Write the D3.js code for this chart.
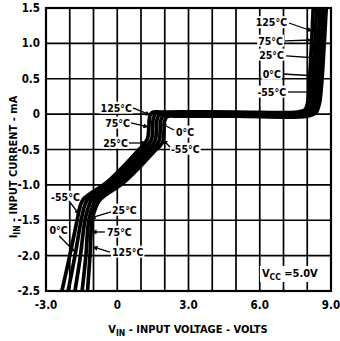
<!DOCTYPE html>
<html><head><meta charset="utf-8">
<script src="https://cdn.jsdelivr.net/npm/d3@7"></script>
<style>
body{margin:0;background:#fff}
svg{display:block}
text{font-family:"Liberation Sans Narrow","DejaVu Sans Condensed",sans-serif;font-weight:bold;fill:#000}
</style>
</head><body>
<svg id="chart" width="340" height="341"></svg>
<script>
// ---- data ----
const xTicks = [-3, 0, 3, 6, 9];
const xTickLabels = ["-3.0", "0", "3.0", "6.0", "9.0"];
const yTicks = [1.5, 1.0, 0.5, 0, -0.5, -1.0, -1.5, -2.0, -2.5];
const yTickLabels = ["1.5", "1.0", "0.5", "0", "-0.5", "-1.0", "-1.5", "-2.0", "-2.5"];
const xGrid = [-2, -1, 0, 1, 2, 3, 4, 5, 6, 7, 8];
const yGrid = [1.0, 0.5, 0, -0.5, -1.0, -1.5, -2.0];
const temps = ["-55°C", "0°C", "25°C", "75°C", "125°C"];

const vinM55 = [-2.33, -2.0, -1.69, -1.56, -1.42, -0.46, 0.22, 0.89, 1.12, 1.28, 1.33, 1.36, 1.45, 1.9, 5.0, 7.6, 7.9, 8.01, 8.08, 8.15, 8.21, 8.25];
const iinM55 = [-2.5, -2.0, -1.5, -1.3, -1.2, -0.97, -0.75, -0.51, -0.43, -0.34, -0.2, -0.05, 0.02, 0.03, 0.03, 0.03, 0.06, 0.15, 0.4, 0.8, 1.2, 1.5];
const vin0 = [-2.07, -1.78, -1.52, -1.38, -1.24, -0.28, 0.40, 1.07, 1.3, 1.45, 1.49, 1.52, 1.62, 2.1, 5.0, 7.7, 8.02, 8.14, 8.21, 8.29, 8.35, 8.39];
const iin0 = [-2.5, -2.0, -1.5, -1.3, -1.2, -0.97, -0.75, -0.51, -0.43, -0.35, -0.2, -0.06, 0.008, 0.015, 0.015, 0.015, 0.05, 0.15, 0.4, 0.8, 1.2, 1.5];
const vin25 = [-1.78, -1.55, -1.36, -1.2, -1.06, -0.10, 0.58, 1.25, 1.47, 1.61, 1.65, 1.68, 1.78, 2.3, 5.0, 7.8, 8.14, 8.27, 8.34, 8.42, 8.49, 8.53];
const iin25 = [-2.5, -2.0, -1.5, -1.3, -1.2, -0.97, -0.75, -0.51, -0.44, -0.36, -0.21, -0.07, -0.006, 0, 0, 0, 0.04, 0.15, 0.4, 0.8, 1.2, 1.5];
const vin75 = [-1.48, -1.32, -1.2, -1.03, -0.88, 0.08, 0.76, 1.43, 1.63, 1.77, 1.81, 1.84, 1.94, 2.45, 5.0, 7.9, 8.25, 8.39, 8.47, 8.55, 8.62, 8.67];
const iin75 = [-2.5, -2.0, -1.5, -1.3, -1.2, -0.97, -0.75, -0.51, -0.45, -0.37, -0.22, -0.08, -0.02, -0.015, -0.015, -0.015, 0.03, 0.15, 0.4, 0.8, 1.2, 1.5];
const vin125 = [-1.25, -1.15, -1.06, -0.88, -0.70, 0.26, 0.94, 1.61, 1.8, 1.93, 1.97, 2.0, 2.1, 2.6, 5.0, 8.0, 8.36, 8.51, 8.6, 8.68, 8.75, 8.8];
const iin125 = [-2.5, -2.0, -1.5, -1.3, -1.2, -0.97, -0.75, -0.51, -0.45, -0.38, -0.23, -0.09, -0.035, -0.03, -0.03, -0.03, 0.02, 0.15, 0.4, 0.8, 1.2, 1.5];

const seriesV = [vinM55, vin0, vin25, vin75, vin125];
const seriesI = [iinM55, iin0, iin25, iin75, iin125];

// annotation labels (data coords): text, anchor, x, y, leader from, leader to
const annotations = [
  ["125°C", "end", 7.15, 1.295, [7.23, 1.288], [8.2, 1.175]],
  ["75°C", "end", 6.98, 1.034, [7.06, 1.034], [8.16, 1.048]],
  ["25°C", "end", 7.02, 0.836, [7.11, 0.822], [8.37, 0.793]],
  ["0°C", "end", 6.89, 0.567, [6.98, 0.567], [8.41, 0.539]],
  ["-55°C", "end", 7.11, 0.313, [7.19, 0.313], [8.37, 0.313]],
  ["125°C", "end", 0.62, 0.087, [0.66, 0.087], [1.38, -0.012]],
  ["75°C", "end", 0.537, -0.125, [0.58, -0.125], [1.29, -0.18]],
  ["25°C", "end", 0.45, -0.408, [0.49, -0.408], [1.21, -0.408]],
  ["0°C", "start", 2.47, -0.253, [2.39, -0.224], [1.88, -0.14]],
  ["-55°C", "start", 2.26, -0.493, [2.22, -0.465], [1.93, -0.366]],
  ["-55°C", "middle", -2.18, -1.171, [-2.03, -1.228], [-1.61, -1.412]],
  ["25°C", "start", -0.221, -1.355, [-0.263, -1.383], [-1.105, -1.468]],
  ["0°C", "middle", -2.47, -1.638, [-2.45, -1.72], [-1.82, -1.935]],
  ["75°C", "start", -0.432, -1.666, [-0.52, -1.666], [-1.06, -1.666]],
  ["125°C", "start", -0.221, -1.949, [-0.305, -1.949], [-1.02, -1.878]]
];

// ---- layout ----
const svg = d3.select("#chart");
const x = d3.scaleLinear().domain([-3, 9]).range([46, 331]);
const y = d3.scaleLinear().domain([-2.5, 1.5]).range([291, 8]);

// grid
svg.append("g").selectAll("line").data(xGrid).join("line")
  .attr("x1", d => x(d)).attr("x2", d => x(d)).attr("y1", y(1.5)).attr("y2", y(-2.5))
  .attr("stroke", "#000").attr("stroke-width", 1.7);
svg.append("g").selectAll("line").data(yGrid).join("line")
  .attr("y1", d => y(d)).attr("y2", d => y(d)).attr("x1", x(-3)).attr("x2", x(9))
  .attr("stroke", "#000").attr("stroke-width", 1.7);

// label backgrounds layer
const bgLayer = svg.append("g");

// curves
const line = d3.line().x(d => x(d[0])).y(d => y(d[1])).curve(d3.curveCatmullRom.alpha(0.5));
svg.append("g").selectAll("path").data(temps).join("path")
  .attr("d", (t, k) => line(seriesV[k].map((v, j) => [v, seriesI[k][j]])))
  .attr("fill", "none").attr("stroke", "#000").attr("stroke-width", 3.7)
  .attr("stroke-linejoin", "round");

// frame
svg.append("rect").attr("x", x(-3)).attr("y", y(1.5))
  .attr("width", x(9) - x(-3)).attr("height", y(-2.5) - y(1.5))
  .attr("fill", "none").attr("stroke", "#000").attr("stroke-width", 2.2);

// arrow marker
svg.append("defs").append("marker").attr("id", "ah")
  .attr("viewBox", "0 0 10 10").attr("refX", 9).attr("refY", 5)
  .attr("markerWidth", 6).attr("markerHeight", 5).attr("markerUnits", "userSpaceOnUse")
  .attr("orient", "auto")
  .append("path").attr("d", "M0,0 L10,5 L0,10 Z").attr("fill", "#000");

// annotations
const ann = svg.append("g");
annotations.forEach(a => {
  ann.append("line")
    .attr("x1", x(a[4][0])).attr("y1", y(a[4][1]))
    .attr("x2", x(a[5][0])).attr("y2", y(a[5][1]))
    .attr("stroke", "#000").attr("stroke-width", 1.3).attr("marker-end", "url(#ah)");
  const t = ann.append("text").attr("x", x(a[2])).attr("y", y(a[3]))
    .attr("dy", "0.35em").attr("text-anchor", a[1]).attr("font-size", 10.5).text(a[0]);
  const b = t.node().getBBox();
  bgLayer.append("rect").attr("x", b.x - 1).attr("y", b.y).attr("width", b.width + 2).attr("height", b.height)
    .attr("fill", "#fff");
});

// Vcc label
const vcc = svg.append("text").attr("x", x(6.09)).attr("y", y(-2.302)).attr("font-size", 11);
vcc.append("tspan").text("V");
vcc.append("tspan").attr("dy", 3).attr("font-size", 8.5).text("CC");
vcc.append("tspan").attr("dy", -3).text(" =5.0V");
const vb = vcc.node().getBBox();
bgLayer.append("rect").attr("x", vb.x - 2).attr("y", vb.y - 1).attr("width", vb.width + 4).attr("height", vb.height + 1).attr("fill", "#fff");

// tick labels
svg.append("g").selectAll("text").data(yTicks).join("text")
  .attr("x", 40).attr("y", d => y(d)).attr("dy", "0.35em").attr("text-anchor", "end")
  .attr("font-size", 11.5).text((d, i) => yTickLabels[i]);
svg.append("g").selectAll("text").data(xTicks).join("text")
  .attr("x", d => x(d)).attr("y", 309).attr("text-anchor", "middle")
  .attr("font-size", 11.5).text((d, i) => xTickLabels[i]);

// axis titles
const xt = svg.append("text").attr("x", 188).attr("y", 333).attr("text-anchor", "middle").attr("font-size", 11);
xt.append("tspan").text("V");
xt.append("tspan").attr("dy", 3).attr("font-size", 8.5).text("IN");
xt.append("tspan").attr("dy", -3).text(" - INPUT VOLTAGE - VOLTS");

const yt = svg.append("text").attr("transform", "translate(17,167) rotate(-90)").attr("text-anchor", "middle").attr("font-size", 11);
yt.append("tspan").text("I");
yt.append("tspan").attr("dy", 3).attr("font-size", 8.5).text("IN");
yt.append("tspan").attr("dy", -3).text(" - INPUT CURRENT - mA");
</script>
</body></html>
